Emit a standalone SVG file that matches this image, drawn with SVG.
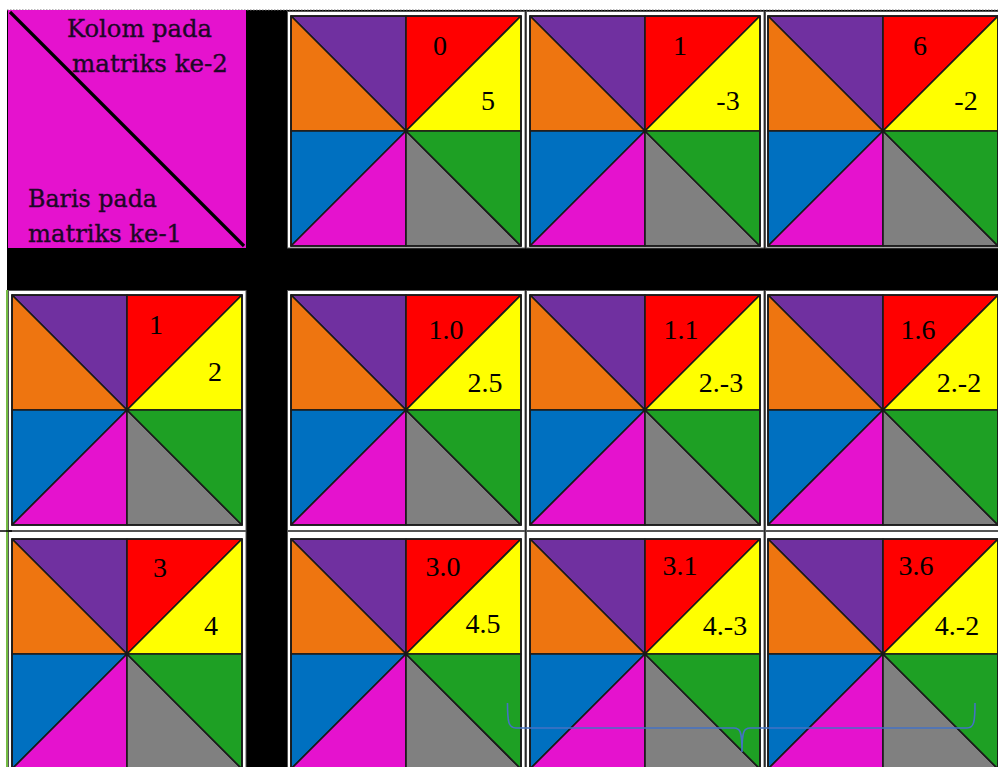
<svg xmlns="http://www.w3.org/2000/svg" width="998" height="767" viewBox="0 0 998 767">
<style>
.pu{fill:#7030A0}.or{fill:#EE7510}.re{fill:#FF0000}.ye{fill:#FFFF00}.bl{fill:#0070C0}.ma{fill:#E512CE}.gy{fill:#808080}.gn{fill:#1EA024}
.tri polygon,.tri rect{stroke:#1a1a1a;stroke-width:1.6;stroke-linejoin:round}
.frame{fill:#fff;stroke:#555;stroke-width:1}
.num{font-family:"Liberation Serif","Times New Roman","DejaVu Serif",serif;font-size:28px;fill:#000;text-anchor:middle}
.lbl{font-family:"DejaVu Serif","Liberation Serif",serif;font-size:24.5px;fill:#1c0826;stroke:#1c0826;stroke-width:0.35}
</style>
<defs>
<g id="tile" class="tri">
<polygon class="pu" points="0,0 115,0 115,115"/>
<polygon class="or" points="0,0 115,115 0,115"/>
<polygon class="re" points="115,0 230,0 115,115"/>
<polygon class="ye" points="230,0 230,115 115,115"/>
<polygon class="bl" points="0,115 115,115 0,230"/>
<polygon class="ma" points="0,230 115,115 115,230"/>
<polygon class="gy" points="115,115 230,230 115,230"/>
<polygon class="gn" points="115,115 230,115 230,230"/>
<rect x="0" y="0" width="230" height="230" fill="none"/>
</g>
</defs>
<rect x="0" y="0" width="998" height="767" fill="#fff"/>
<rect x="7" y="10" width="991" height="757" fill="#000"/>
<line x1="7" y1="10" x2="998" y2="10" stroke="#777" stroke-width="1.2" stroke-dasharray="1.5,1.5"/>
<line x1="7" y1="290" x2="7" y2="767" stroke="#74BC44" stroke-width="2"/>

<g id="header">
<rect x="8" y="10" width="238" height="238" fill="#E512CE"/>
<line x1="10" y1="12" x2="244" y2="246" stroke="#000" stroke-width="3.2"/>
<text class="lbl" x="67" y="37" textLength="145" lengthAdjust="spacingAndGlyphs">Kolom pada</text>
<text class="lbl" x="72" y="72" textLength="156" lengthAdjust="spacingAndGlyphs">matriks ke-2</text>
<text class="lbl" x="28" y="207" textLength="129" lengthAdjust="spacingAndGlyphs">Baris pada</text>
<text class="lbl" x="28" y="242" textLength="154" lengthAdjust="spacingAndGlyphs">matriks ke-1</text>
</g>

<g id="col-0">
<rect class="frame" x="287.5" y="11.5" width="237.5" height="236.5"/>
<use href="#tile" x="291" y="16"/>
<text class="num" x="440" y="55">0</text>
<text class="num" x="488" y="110">5</text>
</g>
<g id="col-1">
<rect class="frame" x="526.5" y="11.5" width="237.5" height="236.5"/>
<use href="#tile" x="530" y="16"/>
<text class="num" x="680" y="55">1</text>
<text class="num" x="728" y="110">-3</text>
</g>
<g id="col-6">
<rect class="frame" x="765.5" y="11.5" width="240" height="236.5"/>
<use href="#tile" x="768" y="16"/>
<text class="num" x="920" y="55">6</text>
<text class="num" x="966" y="110">-2</text>
</g>

<g id="row-1">
<rect class="frame" x="8.5" y="290.5" width="237.5" height="240"/>
<use href="#tile" x="12" y="295"/>
<text class="num" x="156" y="334">1</text>
<text class="num" x="215" y="381">2</text>
</g>
<g id="r1c0">
<rect class="frame" x="287.5" y="290.5" width="237.5" height="240"/>
<use href="#tile" x="291" y="295"/>
<text class="num" x="446" y="339">1.0</text>
<text class="num" x="485" y="392">2.5</text>
</g>
<g id="r1c1">
<rect class="frame" x="526.5" y="290.5" width="237.5" height="240"/>
<use href="#tile" x="530" y="295"/>
<text class="num" x="681" y="339">1.1</text>
<text class="num" x="721" y="392">2.-3</text>
</g>
<g id="r1c6">
<rect class="frame" x="765.5" y="290.5" width="240" height="240"/>
<use href="#tile" x="768" y="295"/>
<text class="num" x="918" y="339">1.6</text>
<text class="num" x="959" y="392">2.-2</text>
</g>

<g id="row-3">
<rect class="frame" x="8.5" y="531.5" width="237.5" height="250"/>
<use href="#tile" x="12" y="539"/>
<text class="num" x="160" y="577">3</text>
<text class="num" x="211" y="635">4</text>
</g>
<g id="r3c0">
<rect class="frame" x="287.5" y="531.5" width="237.5" height="250"/>
<use href="#tile" x="291" y="539"/>
<text class="num" x="443" y="576">3.0</text>
<text class="num" x="483" y="633">4.5</text>
</g>
<g id="r3c1">
<rect class="frame" x="526.5" y="531.5" width="237.5" height="250"/>
<use href="#tile" x="530" y="539"/>
<text class="num" x="680" y="575">3.1</text>
<text class="num" x="725" y="635">4.-3</text>
</g>
<g id="r3c6">
<rect class="frame" x="765.5" y="531.5" width="240" height="250"/>
<use href="#tile" x="768" y="539"/>
<text class="num" x="916" y="575">3.6</text>
<text class="num" x="957" y="635">4.-2</text>
</g>

<line x1="0" y1="531" x2="12" y2="531" stroke="#000" stroke-width="1.5"/>

<g id="connectors">
<path d="M507.5,703 C507.5,722 508.5,728 516,728 L734,728 C740,728 742,731 742,752 C742,731 744,728 750,728 L967,728 C974,728 975,722 975,703" fill="none" stroke="#4472C4" stroke-width="1.6"/>
</g>
</svg>
